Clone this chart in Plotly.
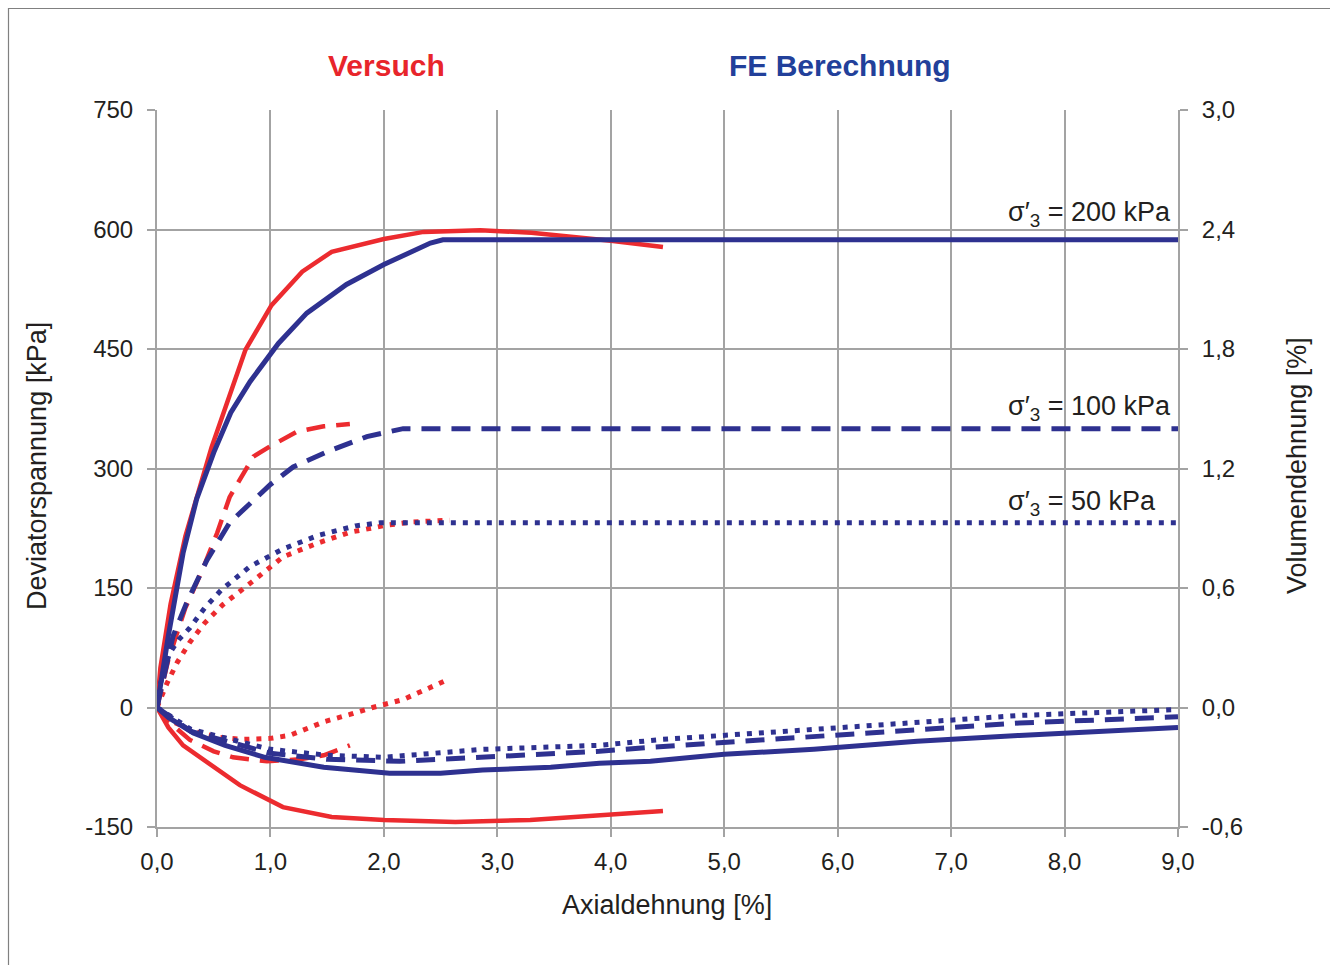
import plotly.graph_objects as go

# ---- Deviatorspannung q [kPa] über Axialdehnung [%] ----
# Versuch (Laborversuche)
exp200_x = [0, 0.03, 0.12, 0.25, 0.48, 0.78, 1.01, 1.28, 1.54, 2.0, 2.35, 2.85, 3.3, 3.75, 4.0, 4.46]
exp200_q = [0, 50, 130, 215, 326, 449, 505, 547, 572, 588, 597, 599, 596, 590, 586, 578]
exp100_x = [0, 0.1, 0.25, 0.41, 0.53, 0.64, 0.85, 1.0, 1.23, 1.47, 1.70]
exp100_q = [0, 60, 125, 176, 219, 264, 315, 328, 346, 353, 356]
exp50_x = [0, 0.09, 0.18, 0.29, 0.42, 0.58, 0.84, 1.11, 1.41, 1.70, 2.03, 2.26, 2.58]
exp50_q = [0, 31, 57, 82, 106, 129, 158, 189, 206, 220, 229, 233, 235]

# FE Berechnung
fe200_x = [0, 0.1, 0.23, 0.35, 0.5, 0.65, 0.82, 1.07, 1.32, 1.67, 2.0, 2.2, 2.41, 2.52, 9.0]
fe200_q = [0, 90, 194, 262, 320, 370, 409, 457, 495, 531, 556, 570, 583, 587, 587]
fe100_x = [0, 0.14, 0.26, 0.44, 0.64, 0.82, 1.0, 1.2, 1.5, 1.85, 2.17, 9.0]
fe100_q = [0, 89, 131, 185, 232, 257, 280, 302, 321, 340, 350, 350]
fe50_x = [0, 0.03, 0.11, 0.19, 0.29, 0.42, 0.57, 0.82, 1.11, 1.42, 1.75, 1.97, 9.0]
fe50_q = [0, 30, 68, 85, 100, 125, 148, 177, 199, 216, 228, 232, 232]

# ---- Volumendehnung [%] über Axialdehnung [%] ----
exp200_vx = [0, 0.1, 0.23, 0.53, 0.73, 1.11, 1.54, 2.0, 2.63, 3.29, 4.46]
exp200_ev = [0, -0.10, -0.19, -0.314, -0.39, -0.50, -0.55, -0.565, -0.575, -0.565, -0.52]
exp100_vx = [0, 0.1, 0.29, 0.5, 0.67, 0.79, 0.97, 1.26, 1.47, 1.61, 1.70]
exp100_ev = [0, -0.07, -0.163, -0.22, -0.25, -0.26, -0.27, -0.26, -0.24, -0.21, -0.19]
exp50_vx = [0, 0.1, 0.32, 0.55, 0.76, 1.0, 1.17, 1.48, 1.7, 1.9, 2.17, 2.38, 2.58]
exp50_ev = [0, -0.06, -0.12, -0.15, -0.16, -0.155, -0.14, -0.07, -0.035, 0.0, 0.04, 0.09, 0.144]

fe200_vx = [0, 0.1, 0.32, 0.6, 0.95, 1.47, 2.05, 2.5, 2.87, 3.47, 3.9, 4.35, 5.0, 5.79, 6.7, 7.6, 9.0]
fe200_ev = [0, -0.05, -0.128, -0.19, -0.25, -0.30, -0.33, -0.33, -0.314, -0.30, -0.28, -0.27, -0.235, -0.21, -0.17, -0.14, -0.10]
fe100_vx = [0, 0.3, 1.0, 1.5, 2.14, 2.87, 3.9, 4.35, 5.79, 7.6, 9.0]
fe100_ev = [0, -0.12, -0.23, -0.26, -0.27, -0.25, -0.22, -0.20, -0.148, -0.078, -0.047]
fe50_vx = [0, 0.3, 1.0, 1.5, 2.0, 2.87, 3.9, 4.46, 5.79, 7.6, 9.0]
fe50_ev = [0, -0.11, -0.21, -0.24, -0.25, -0.21, -0.19, -0.16, -0.11, -0.04, -0.01]

# Achsen
x_ticks = [0, 1, 2, 3, 4, 5, 6, 7, 8, 9]
x_ticktext = ["0,0", "1,0", "2,0", "3,0", "4,0", "5,0", "6,0", "7,0", "8,0", "9,0"]
q_ticks = [-150, 0, 150, 300, 450, 600, 750]
q_ticktext = ["-150", "0", "150", "300", "450", "600", "750"]
ev_ticks = [-0.6, 0.0, 0.6, 1.2, 1.8, 2.4, 3.0]
ev_ticktext = ["-0,6", "0,0", "0,6", "1,2", "1,8", "2,4", "3,0"]

labels = [("σ′<sub>3</sub> = 200 kPa", 620), ("σ′<sub>3</sub> = 100 kPa", 376), ("σ′<sub>3</sub> = 50 kPa", 257)]

RED = "#EC2B2F"
BLUE = "#2E3190"
GRID = "#A3A3A3"
TEXT = "#231F20"
FONT = "Liberation Sans, Arial, sans-serif"

DASH = "19px,11px"
DOT = "5px,7px"

fig = go.Figure()


def add(x, y, color, dash, width, axis="y"):
    fig.add_trace(go.Scatter(x=x, y=y, mode="lines", yaxis=axis,
                             line=dict(color=color, dash=dash, width=width),
                             showlegend=False, hoverinfo="skip"))


# Versuch (rot)
add(exp200_x, exp200_q, RED, "solid", 4.5)
add(exp100_x, exp100_q, RED, DASH, 4.5)
add(exp50_x, exp50_q, RED, DOT, 5)
add(exp200_vx, exp200_ev, RED, "solid", 4.5, "y2")
add(exp100_vx, exp100_ev, RED, DASH, 4.5, "y2")
add(exp50_vx, exp50_ev, RED, DOT, 5, "y2")

# FE Berechnung (blau)
add(fe200_x, fe200_q, BLUE, "solid", 5)
add(fe100_x, fe100_q, BLUE, DASH, 5)
add(fe50_x, fe50_q, BLUE, DOT, 5)
add(fe200_vx, fe200_ev, BLUE, "solid", 5, "y2")
add(fe100_vx, fe100_ev, BLUE, DASH, 5, "y2")
add(fe50_vx, fe50_ev, BLUE, DOT, 5, "y2")

tickfont = dict(family=FONT, size=24, color=TEXT)
axis_common = dict(showline=True, linecolor=GRID, linewidth=2,
                   ticks="outside", ticklen=8, tickwidth=2, tickcolor=GRID,
                   zeroline=False, tickfont=tickfont)

fig.update_layout(
    width=1330, height=965,
    margin=dict(l=157, r=152, t=110, b=138),
    paper_bgcolor="white", plot_bgcolor="white",
    font=dict(family=FONT, color=TEXT),
    xaxis=dict(range=[0, 9], tickvals=x_ticks, ticktext=x_ticktext,
               showgrid=True, gridcolor=GRID, gridwidth=2,
               ticklabelstandoff=4, **axis_common),
    yaxis=dict(range=[-150, 750], tickvals=q_ticks, ticktext=q_ticktext,
               showgrid=True, gridcolor=GRID, gridwidth=2,
               ticklabelstandoff=9, **axis_common),
    yaxis2=dict(range=[-0.6, 3.0], tickvals=ev_ticks, ticktext=ev_ticktext,
                overlaying="y", side="right", showgrid=False,
                ticklabelstandoff=9, **axis_common),
)

W, H = 1330 - 157 - 152, 965 - 110 - 138


def px_x(p):
    return (p - 157) / W


def px_y(p):
    return 1 + (110 - p) / H


# Titel der Kurvengruppen
fig.add_annotation(x=px_x(386), y=px_y(65), xref="paper", yref="paper", text="<b>Versuch</b>",
                   showarrow=False, xanchor="center", yanchor="middle",
                   font=dict(family=FONT, size=30, color="#E8252B"))
fig.add_annotation(x=px_x(840), y=px_y(65), xref="paper", yref="paper", text="<b>FE Berechnung</b>",
                   showarrow=False, xanchor="center", yanchor="middle",
                   font=dict(family=FONT, size=30, color="#22409A"))

# Achsentitel
fig.add_annotation(x=px_x(667), y=px_y(905), xref="paper", yref="paper",
                   text="Axialdehnung [%]", showarrow=False, xanchor="center", yanchor="middle",
                   font=dict(family=FONT, size=27, color=TEXT))
fig.add_annotation(x=px_x(37), y=px_y(466), xref="paper", yref="paper",
                   text="Deviatorspannung [kPa]", showarrow=False, textangle=-90,
                   xanchor="center", yanchor="middle",
                   font=dict(family=FONT, size=27, color=TEXT))
fig.add_annotation(x=px_x(1297), y=px_y(466), xref="paper", yref="paper",
                   text="Volumendehnung [%]", showarrow=False, textangle=-90,
                   xanchor="center", yanchor="middle",
                   font=dict(family=FONT, size=27, color=TEXT))

# Beschriftung der Zelldrücke
for txt, qpos in labels:
    fig.add_annotation(x=7.48, y=qpos, xref="x", yref="y", text=txt, showarrow=False,
                       xanchor="left", yanchor="middle",
                       font=dict(family=FONT, size=27, color=TEXT))

# Rahmen um die Grafik
fig.add_shape(type="rect", xref="paper", yref="paper",
              x0=px_x(8.5), x1=px_x(1340), y0=px_y(975), y1=px_y(8.5),
              line=dict(color="#808080", width=1.2), fillcolor="rgba(0,0,0,0)", layer="below")

fig.write_html("out.html")
